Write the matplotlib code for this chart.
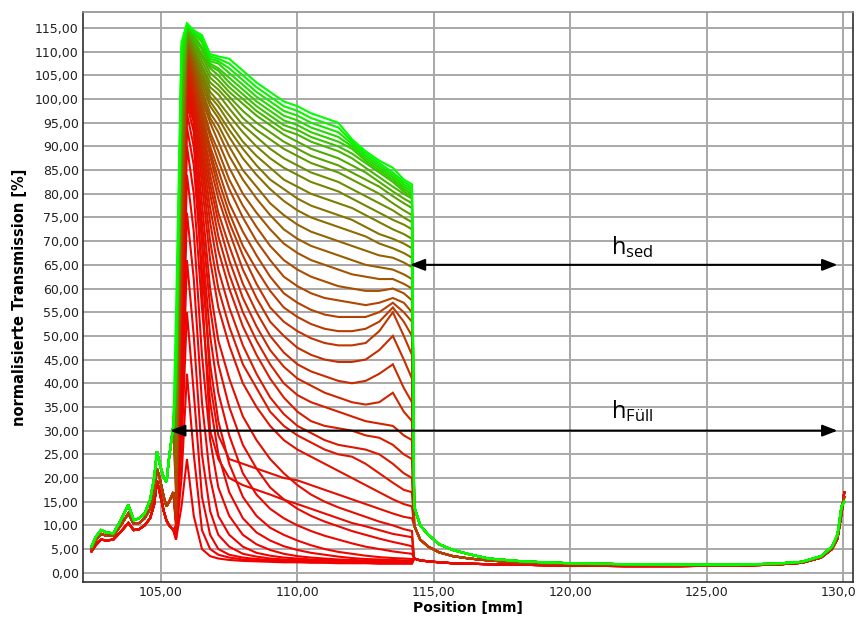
import matplotlib
matplotlib.use("Agg")
import matplotlib.pyplot as plt
from matplotlib.ticker import FuncFormatter

# ---------------- data ----------------
# meniscus region positions [mm] and three variants (early / middle / late profiles)
x_meniscus = [102.45, 102.6, 102.8, 103.0, 103.25, 103.5, 103.8, 104.0, 104.2, 104.4,
              104.6, 104.75, 104.85, 104.95, 105.1, 105.2, 105.3, 105.45]
men_red = [4.5, 5.8, 7.0, 6.8, 7.0, 8.5, 10.5, 9.0, 9.2, 10.0, 11.5, 14.5, 19.5, 17, 13, 11, 10, 9]
men_mid = [5.0, 6.8, 8.2, 7.8, 7.8, 9.8, 12.5, 10.3, 10.5, 11.5, 13.5, 17, 22, 20, 16, 14, 15, 17]
men_green = [5.5, 7.5, 9.0, 8.5, 8.3, 10.8, 14.3, 11.1, 11.5, 12.5, 15.4, 20, 25.6, 23, 20, 19.2, 24.5, 31]

# sample region positions [mm]
x_sample = [105.55, 105.75, 105.95, 106.2, 106.5, 106.8, 107.1, 107.5, 108.0, 108.5, 109.0,
            109.5, 110.0, 110.5, 111.0, 111.5, 112.0, 112.5, 113.0, 113.5, 113.9, 114.2]

early_profiles = [
    [7, 14, 24, 12, 5, 3.5, 3.0, 2.7, 2.5, 2.4, 2.3, 2.2, 2.2, 2.1, 2.1, 2.0, 2.0, 2.0, 1.9, 1.9, 1.9, 1.9],
    [7, 20, 42, 25, 9, 5, 3.8, 3.2, 2.8, 2.6, 2.5, 2.4, 2.3, 2.3, 2.2, 2.2, 2.1, 2.1, 2.0, 2.0, 2.0, 2.0],
    [8, 26, 55, 38, 16, 8, 5, 3.8, 3.2, 2.9, 2.7, 2.6, 2.5, 2.4, 2.3, 2.3, 2.2, 2.2, 2.1, 2.1, 2.1, 2.1],
    [8, 30, 66, 50, 25, 13, 8, 5.5, 4.0, 3.4, 3.0, 2.8, 2.7, 2.6, 2.5, 2.4, 2.3, 2.3, 2.2, 2.2, 2.2, 2.2],
    [8, 34, 76, 62, 36, 20, 12, 8, 5.5, 4.2, 3.6, 3.2, 3.0, 2.8, 2.7, 2.6, 2.5, 2.4, 2.4, 2.3, 2.3, 2.3],
    [8, 38, 84, 72, 46, 28, 18, 12, 8, 6, 4.8, 4.0, 3.5, 3.2, 3.0, 2.8, 2.7, 2.6, 2.5, 2.5, 2.4, 2.4],
    [9, 42, 90, 80, 56, 36, 25, 17, 11.5, 8.5, 6.8, 5.6, 4.8, 4.2, 3.8, 3.4, 3.1, 2.9, 2.8, 2.7, 2.6, 2.6],
    [9, 45, 94, 86, 64, 44, 32, 23, 16, 12, 9.5, 8, 6.8, 5.8, 5.0, 4.4, 4.0, 3.6, 3.3, 3.1, 3.0, 2.9],
    [9, 48, 97, 90, 70, 50, 38, 29, 21, 16.5, 13.5, 11.5, 10, 8.8, 7.8, 7.0, 6.2, 5.5, 5.0, 4.5, 4.2, 4.0],
    [9, 50, 99, 93, 74, 56, 44, 35, 27, 22, 18, 15.5, 13.5, 12, 10.8, 9.8, 8.8, 8.0, 7.2, 6.5, 6.0, 5.6],
    [10, 52, 100, 95, 60, 30, 24, 20, 18.5, 17.5, 16.5, 15.4, 14.5, 13.5, 12.5, 11.5, 10.5, 9.8, 9.0, 8.2, 7.8, 7.5],
    [10, 54, 101, 96, 78, 60, 49, 41, 33, 28, 24, 21, 18.5, 16.5, 15, 13.8, 12.8, 11.8, 10.8, 10, 9.2, 8.8],
]
mid_profiles = [
    [10, 55, 102, 97, 70, 40, 29, 24, 23, 22, 21, 20, 19.5, 18.5, 17.5, 16.5, 15.5, 14.5, 13.5, 12.5, 11.8, 11.5],
    [10, 57, 103, 98, 82, 66, 56, 48, 40, 35, 31, 28, 26, 24.5, 23, 21.5, 20, 18.5, 17, 15.5, 14.5, 14],
    [11, 58, 104, 99, 85, 70, 60, 52, 44, 39, 34, 31, 29, 27.5, 26, 25, 24.5, 23, 21, 19, 17.5, 17],
    [11, 60, 105, 100, 87, 74, 64, 56, 48, 42, 37, 33.5, 31, 29.5, 28, 27, 26.5, 26, 25, 23, 21, 20],
    [11, 62, 106, 101, 89, 77, 68, 60, 52, 46, 41, 37, 34, 32, 31, 30.5, 30, 29, 28.5, 27, 25, 24],
    [12, 63, 106, 102, 90, 80, 71, 63, 55, 49, 44, 40, 37.5, 36, 35, 34, 33, 32, 31.5, 31, 29, 28],
    [12, 65, 107, 102, 92, 82, 74, 66, 58, 52, 47, 43.5, 41, 39.5, 38, 37, 36, 35.5, 36, 38, 34, 32],
    [12, 66, 108, 103, 93, 84, 76, 69, 61, 55, 50, 46.5, 44, 42.5, 41.5, 40.5, 40, 40.5, 42, 44, 39, 36],
    [13, 68, 108, 104, 94, 86, 79, 72, 64, 58, 53, 50, 47.5, 46, 45, 44.5, 44.5, 45, 47, 50, 45, 41],
    [13, 70, 109, 104, 95, 88, 81, 74, 67, 61, 56, 53, 51, 49.5, 48.5, 48, 48, 48.5, 51, 55, 50, 46],
    [14, 72, 110, 105, 96, 89, 83, 76, 69, 64, 59.5, 56, 54, 52.5, 51.5, 51, 51, 51.5, 53, 56, 53, 50],
    [14, 74, 110, 106, 97, 90, 85, 78, 72, 67, 62.5, 59, 57, 55.5, 54.5, 54, 54, 54, 55, 57, 55, 53],
]
late_profiles = [
    [16, 76, 111, 106, 98, 92, 87, 81, 75, 70, 66, 62.5, 60.5, 59, 58, 57.5, 57, 56.5, 57, 58, 57, 55],
    [18, 78, 111, 107, 99, 93, 89, 83, 77.5, 73, 69, 66, 64, 62.5, 61.5, 60.5, 60, 59.5, 59.5, 60, 59, 57.5],
    [20, 80, 112, 107, 100, 95, 91, 85.5, 80, 76, 72.5, 69.5, 67.5, 66, 65, 64, 63, 62.5, 62, 62, 61, 60],
    [22, 82, 112, 108, 101, 96, 93, 88, 83, 79, 75.5, 72.5, 70.5, 69, 68, 67, 66, 65, 64.5, 64, 63, 62],
    [24, 84, 112, 108, 102, 97, 94.5, 90, 85, 81.5, 78, 75.5, 73.5, 72, 71, 70, 69, 68, 67, 66.5, 65.5, 64.5],
    [26, 86, 113, 109, 103, 98.5, 96, 92, 87.5, 84, 81, 78.5, 76.5, 75, 74, 73, 72, 71, 69.5, 68.5, 67.5, 66.5],
    [28, 88, 113, 109, 104, 99.5, 97, 93.5, 89.5, 86, 83, 81, 79, 77.5, 76.5, 75.5, 74.5, 73, 71.5, 70.5, 69.5, 68.5],
    [30, 90, 113, 110, 105, 100.5, 98.5, 95, 91, 88, 85.5, 83, 81.5, 80, 79, 78, 77, 75.5, 74, 72.5, 71.5, 70.5],
    [32, 92, 114, 110, 105.5, 101.5, 99.5, 96.5, 93, 90, 87.5, 85.5, 84, 82.5, 81.5, 80.5, 79, 77.5, 76, 74.5, 73.5, 72.5],
    [34, 94, 114, 111, 106.5, 102.5, 101, 98, 94.5, 92, 89.5, 87.5, 86, 84.5, 83.5, 82.5, 81, 79.5, 78, 76.5, 75, 74],
    [36, 96, 114, 111, 107, 103.5, 102, 99.5, 96, 93.5, 91.5, 89.5, 88, 86.5, 85.5, 84.5, 83, 81.5, 80, 78, 76.5, 75.5],
    [37, 98, 114.5, 112, 108, 104.5, 103, 100.5, 97.5, 95, 93, 91, 89.5, 88, 87, 86, 84.5, 83, 81.5, 79.5, 78, 77],
    [38, 100, 114.5, 112, 109, 105.5, 104, 101.5, 99, 96.5, 94.5, 92.5, 91, 89.5, 88.5, 87.5, 86, 84.5, 82.5, 80.5, 79, 78],
    [40, 102, 115, 112.5, 109.5, 106.5, 105, 102.5, 100, 97.5, 95.5, 93.5, 92.5, 91, 90, 89, 87.5, 85.5, 83.5, 81.5, 80, 79],
    [41, 104, 115, 113, 110.5, 107, 106, 103.5, 101, 98.5, 96.5, 94.5, 93.5, 92, 91, 90, 88.5, 86.5, 84.5, 82.5, 80.5, 79.5],
    [42, 106, 115, 113.5, 111, 107.5, 106.5, 104.5, 102, 99.5, 97.5, 95.5, 94.5, 93, 92, 91, 89.5, 87, 85, 83, 81, 80],
    [43, 108, 115.5, 114, 112, 108, 107.5, 105.5, 103, 100.5, 98.5, 96.5, 95.5, 94, 93, 92, 90, 87.5, 85.5, 83.5, 81.5, 80.5],
    [44, 110, 115.5, 114, 112.5, 108.5, 108, 106.5, 104, 101.5, 99.5, 97.5, 96.5, 95, 94, 93, 90.5, 88, 86, 84, 82, 81],
    [45, 111, 115.5, 114.5, 113, 109, 108.5, 107.5, 105, 102.5, 100.5, 98.5, 97.5, 96, 95, 94, 91, 88.5, 86.5, 84.5, 82.5, 81.5],
    [55, 112, 116, 114.5, 113.5, 109.5, 109, 108.5, 106, 103.5, 101.5, 99.5, 98.5, 97, 96, 95, 91.5, 89, 87, 85.5, 83, 82],
]

# tail region (clear liquid / cell bottom)
x_tail = [114.28, 114.5, 114.8, 115.2, 115.7, 116.3, 117.0, 118.0, 119.0, 120.0,
          122.0, 124.0, 126.0, 127.5, 128.5, 129.2, 129.6, 129.8, 129.95, 130.05]
tail_red = [3, 2.6, 2.4, 2.2, 2.0, 1.9, 1.8, 1.7, 1.6, 1.5, 1.4, 1.4, 1.5, 1.7, 2.1, 3.2, 5.0, 7.2, 12.5, 17]
tail_mid = [10, 7, 5.5, 4.3, 3.5, 3.0, 2.6, 2.2, 2.0, 1.9, 1.7, 1.6, 1.6, 1.8, 2.2, 3.3, 5.2, 7.5, 13, 16]
tail_green = [14, 10, 8, 6, 4.8, 3.9, 3.0, 2.5, 2.2, 2.0, 1.8, 1.7, 1.7, 1.9, 2.3, 3.5, 5.5, 8, 14, 15]

y_ticks = list(range(0, 120, 5))
x_ticks = [105, 110, 115, 120, 125, 130]

# ---------------- figure ----------------
plt.rcParams["mathtext.fontset"] = "custom"
plt.rcParams["mathtext.rm"] = "Open Sans"

fig = plt.figure(figsize=(8.56, 6.17), dpi=100)
ax = fig.add_axes([0.097, 0.0567, 0.8995, 0.924])

groups = ([(p, men_red, tail_red) for p in early_profiles]
          + [(p, men_mid, tail_mid) for p in mid_profiles]
          + [(p, men_green, tail_green) for p in late_profiles])
n = len(groups)
xs = x_meniscus + x_sample + x_tail
for i, (prof, men, tail) in enumerate(groups):
    t = (i / (n - 1)) ** 2.2
    col = (0.95 * (1 - t), t, 0.0)
    ax.plot(xs, men + prof + tail, color=col, lw=1.5, solid_joinstyle="miter", zorder=3)

ax.set_xlim(102.14, 130.37)
ax.set_ylim(-1.96, 118.4)
ax.xaxis.set_major_locator(plt.FixedLocator(x_ticks))
ax.yaxis.set_major_locator(plt.FixedLocator(y_ticks))
fmt = FuncFormatter(lambda v, p: f"{v:.2f}".replace(".", ","))
ax.xaxis.set_major_formatter(fmt)
ax.yaxis.set_major_formatter(fmt)
ax.tick_params(length=0, pad=3, labelsize=9, colors="#202020")
ax.grid(True, color="#a8a8a8", lw=1.4, zorder=1)
for s in ax.spines.values():
    s.set_color("#303030")
    s.set_linewidth(1.2)
ax.spines["top"].set_color("#909090")

ax.set_xlabel("Position [mm]", fontsize=10, fontweight="bold", labelpad=1)
ax.set_ylabel("normalisierte Transmission [%]", fontsize=10.5, fontweight="bold", labelpad=6)

# arrows and annotation
arrow_kw = dict(arrowstyle="<|-|>,head_length=0.9,head_width=0.35", color="black", lw=1.5,
                shrinkA=0, shrinkB=0)
ax.annotate("", xy=(114.12, 65), xytext=(129.8, 65), arrowprops=arrow_kw, zorder=5)
ax.annotate("", xy=(105.33, 30), xytext=(129.8, 30), arrowprops=arrow_kw, zorder=5)

ax.text(121.5, 67.3, r"$\mathregular{h_{sed}}$", fontsize=17, family="Open Sans", zorder=6)
ax.text(121.5, 32.7, r"$\mathregular{h_{Füll}}$", fontsize=17, family="Open Sans", zorder=6)

fig.savefig("out.png", dpi=100)
